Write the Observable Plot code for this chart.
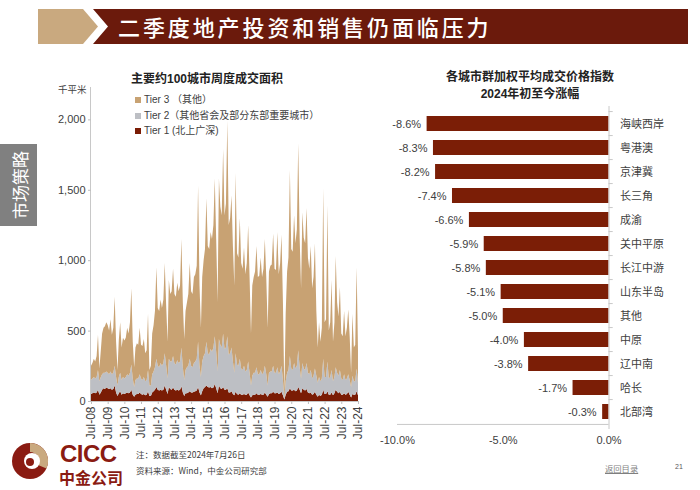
<!DOCTYPE html>
<html><head><meta charset="utf-8">
<script src="https://cdn.jsdelivr.net/npm/d3@7"></script>
<script src="https://cdn.jsdelivr.net/npm/@observablehq/plot@0.6"></script>
<style>
body{margin:0;background:#fff;}
#page{position:relative;width:700px;height:490px;overflow:hidden;font-family:"Liberation Sans",Arial,"Noto Sans CJK SC",sans-serif;color:#404040;}
.abs{position:absolute;white-space:nowrap;}
.abs svg{overflow:visible;}
</style></head><body><div id="page">
<svg class="abs" style="left:0;top:0" width="700" height="50">
<polygon points="38,9 83,9 98,26.5 83,44 38,44" fill="#c9a97f"/>
<polygon points="93,9 688,9 688,44 93,44 108,26.5" fill="#6b1a0c"/>
</svg>
<div class="abs" style="left:118px;top:11px;font-size:22px;letter-spacing:2.9px;font-weight:500;color:#fff;font-family:'Noto Sans CJK SC',sans-serif;line-height:30px">二季度地产投资和销售仍面临压力</div>
<div class="abs" style="left:0;top:144px;width:37px;height:82px;background:#808080"></div>
<div class="abs" style="left:18.5px;top:185px;transform:translate(-50%,-50%) rotate(-90deg);font-size:17px;color:#fff;font-family:'Noto Sans CJK SC',sans-serif">市场策略</div>

<div class="abs" style="left:207px;top:69px;transform:translateX(-50%);font-size:12px;font-weight:bold;color:#222">主要约100城市周度成交面积</div>
<div class="abs" style="left:58px;top:82px;font-size:9.5px;color:#404040">千平米</div>
<div id="legend"></div>
<div id="left" class="abs" style="left:0;top:0"></div>

<div class="abs" style="left:530px;top:69px;transform:translateX(-50%);font-size:12px;font-weight:bold;color:#222;text-align:center;line-height:17px">各城市群加权平均成交价格指数<br>2024年初至今涨幅</div>
<div id="right" class="abs" style="left:360px;top:0"></div>

<svg class="abs" style="left:0;top:430px" width="60" height="60">
<circle cx="30" cy="31" r="18" fill="#8a1b12"/>
<path d="M30,13 A18,18 0 0 1 46.5,38.5 L38,35 A9,9 0 0 0 30,22 Z" fill="#c9a97f"/>
<circle cx="32" cy="31" r="8" fill="#fff"/>
<circle cx="30" cy="32" r="4" fill="#8a1b12"/>
</svg>
<div class="abs" style="left:60px;top:443px;font-size:24px;font-weight:bold;color:#8a1b12;line-height:22px;letter-spacing:-0.5px">CICC</div>
<div class="abs" style="left:59px;top:468px;font-size:16px;font-weight:bold;color:#8a1b12;line-height:18px;font-family:'Noto Sans CJK SC',sans-serif">中金公司</div>
<div class="abs" style="left:136px;top:446px;font-size:8.5px;color:#404040;line-height:16px;font-family:'Noto Sans CJK SC',sans-serif">注：数据截至2024年7月26日<br>资料来源：Wind，中金公司研究部</div>
<div class="abs" style="left:605px;top:462px;font-size:8.3px;color:#7f7f7f;text-decoration:underline;font-family:'Noto Sans CJK SC',sans-serif">返回目录</div>
<div class="abs" style="left:675px;top:463px;font-size:7px;color:#595959">21</div>
</div>
<script>
// ---- Left chart: monthly readings (Jul-2008 .. Jul-2024), thousand sq m ----
const tierNames = ["Tier 1", "Tier 2", "Tier 3"];
const legendLabels = ["Tier 3 （其他）", "Tier 2（其他省会及部分东部重要城市）", "Tier 1 (北上广深)"];
const tier1 = [
50,55,60,55,60,80,
45,60,80,90,85,95,90,85,90,80,85,110,
60,35,55,70,45,55,50,55,60,55,60,80,
45,30,45,50,50,60,50,45,50,40,45,70,
35,35,60,70,80,100,80,75,80,75,80,110,
80,50,100,85,80,95,80,75,80,75,80,105,
60,35,55,55,60,70,60,60,65,70,75,100,
60,40,70,90,100,110,100,95,100,90,95,120,
90,55,110,90,85,100,80,80,90,60,60,70,
50,40,65,50,45,55,45,45,50,45,45,60,
40,25,40,45,45,55,45,45,50,45,45,60,
45,30,50,55,55,65,55,55,60,50,55,65,
40,10,45,65,70,90,75,75,80,70,75,100,
80,55,90,80,75,85,60,55,60,45,50,65,
45,30,45,35,45,80,50,50,70,45,45,60,
40,55,80,65,55,65,45,45,55,45,50,65,
45,25,50,45,45,70,40];
const tier2 = [
100,105,110,105,110,140,
95,110,110,110,115,115,110,105,120,110,115,140,
110,75,115,130,105,115,110,115,130,125,140,180,
115,70,105,110,110,130,110,105,120,100,105,150,
75,75,130,140,160,200,170,165,190,175,190,230,
170,110,200,195,200,225,190,185,210,195,200,275,
180,115,165,185,190,230,190,180,205,210,225,320,
190,130,210,230,240,310,240,235,270,260,285,340,
260,155,330,310,295,380,290,300,370,270,280,310,
230,160,275,210,205,245,185,175,200,165,175,220,
160,85,140,155,155,185,145,145,170,145,155,190,
145,80,150,155,155,185,145,145,180,140,155,185,
110,10,95,135,150,230,155,145,190,160,175,260,
160,105,180,150,145,185,140,135,160,115,130,165,
135,100,125,105,115,220,120,120,210,115,125,160,
100,115,160,135,125,155,115,105,135,105,110,125,
105,75,130,95,95,160,90];
const tier3 = [
100,110,130,120,150,250,
90,190,290,320,330,350,340,310,370,280,320,490,
250,110,260,360,230,280,270,280,330,300,360,540,
260,140,230,250,240,330,240,240,270,200,210,400,
110,140,290,330,400,650,410,400,450,410,450,640,
430,260,560,480,500,620,490,480,550,510,540,770,
460,290,420,460,510,680,530,520,610,620,660,1110,
570,350,600,680,740,1020,760,750,830,800,870,1120,
800,490,1140,980,940,1310,950,1020,1530,920,960,1080,
820,620,1280,790,770,1000,750,720,840,690,760,970,
680,370,640,680,720,860,690,700,800,690,740,900,
690,410,720,750,760,940,740,730,960,710,770,930,
550,40,480,720,800,1320,850,840,1050,890,970,1470,
920,640,1070,930,900,1100,820,750,880,640,700,890,
460,250,390,280,360,1210,390,410,1110,340,390,640,
280,390,790,500,420,590,320,310,450,310,360,460,
310,100,440,240,260,720,230];
const xTickLabels = ["Jul-08","Jul-09","Jul-10","Jul-11","Jul-12","Jul-13","Jul-14","Jul-15","Jul-16","Jul-17","Jul-18","Jul-19","Jul-20","Jul-21","Jul-22","Jul-23","Jul-24"];
const yTicks = [0, 500, 1000, 1500, 2000];
const tierColors = ["#7a1c05", "#bdbfc4", "#c8a273"];

// ---- Right chart ----
const cities = ["海峡西岸","粤港澳","京津冀","长三角","成渝","关中平原","长江中游","山东半岛","其他","中原","辽中南","哈长","北部湾"];
const changes = [-8.6,-8.3,-8.2,-7.4,-6.6,-5.9,-5.8,-5.1,-5.0,-4.0,-3.8,-1.7,-0.3];
const xTicksRight = [-10, -5, 0];

const parseTick = d3.utcParse("%b-%y");
const xTickDates = xTickLabels.map(parseTick);
const dates = tier1.map((_, i) => new Date(Date.UTC(2008, 6 + i, 1)));
const table = [];
[tier1, tier2, tier3].forEach((arr, k) => arr.forEach((v, i) => table.push({date: dates[i], tier: tierNames[k], value: v})));

const baseStyle = {fontFamily: "'Liberation Sans', Arial, 'Noto Sans CJK SC', sans-serif", fontSize: "11px", color: "#404040", background: "transparent", overflow: "visible"};

const left = Plot.plot({
  width: 370, height: 460, marginLeft: 91, marginRight: 12, marginTop: 87, marginBottom: 59,
  style: baseStyle,
  x: {type: "utc", domain: [dates[0], dates[dates.length - 1]], label: null},
  y: {domain: [0, 2230], label: null},
  color: {domain: tierNames, range: tierColors},
  marks: [
    Plot.areaY(table, {x: "date", y: "value", fill: "tier", z: "tier", curve: "linear"}),
    Plot.ruleX([dates[0]], {stroke: "#c8c8c8", dx: -1}),
    Plot.ruleY([0], {stroke: "#c8c8c8"}),
    Plot.axisY({ticks: yTicks, tickFormat: d3.format(","), tickSize: 3, tickPadding: 3, stroke: "#bfbfbf", label: null}),
    Plot.axisX({ticks: xTickDates, tickFormat: d3.utcFormat("%b-%y"), tickRotate: -90, tickSize: 3, tickPadding: 2, stroke: "#bfbfbf", fontSize: 12, label: null})
  ]
});
document.getElementById("left").appendChild(left);

// legend
const lg = document.getElementById("legend");
const legendColors = [tierColors[2], tierColors[1], tierColors[0]];
legendLabels.forEach((t, i) => {
  const y = [100, 115.5, 131][i];
  const sq = document.createElement("div");
  sq.className = "abs";
  sq.style.cssText = `left:135px;top:${y - 3}px;width:6px;height:6px;background:${legendColors[i]}`;
  lg.appendChild(sq);
  const tx = document.createElement("div");
  tx.className = "abs";
  tx.style.cssText = `left:144px;top:${y - 7}px;font-size:10px;line-height:14px;color:#404040`;
  tx.textContent = t;
  lg.appendChild(tx);
});

const rows = cities.map((c, i) => ({city: c, change: changes[i]}));
const step = 323 / 13;
const right = Plot.plot({
  width: 340, height: 460, marginLeft: 37, marginRight: 91.5, marginTop: 106, marginBottom: 31,
  style: baseStyle,
  x: {domain: [-10, 0], label: null},
  y: {type: "band", domain: cities, paddingInner: 0.38, paddingOuter: 0.19, label: null},
  marks: [
    Plot.barX(rows, {x: "change", y: "city", fill: "#7b1e06"}),
    Plot.ruleX([0], {stroke: "#c8c8c8"}),
    Plot.ruleY([cities[cities.length - 1]], {x1: -10, x2: 0, dy: step / 2, stroke: "#c8c8c8"}),
    Plot.ruleY(cities, {x1: 0, x2: 0.2, dy: -step / 2, stroke: "#c8c8c8"}),
    Plot.text(rows, {x: "change", y: "city", text: d => d.change.toFixed(1) + "%", textAnchor: "end", dx: -6, fill: "#404040", fontSize: 11}),
    Plot.axisY({anchor: "right", tickSize: 0, tickPadding: 11, fontSize: 11, label: null}),
    Plot.axisX({ticks: xTicksRight, tickFormat: d => d.toFixed(1) + "%", tickSize: 0, tickPadding: 7, fontSize: 11, label: null})
  ]
});
document.getElementById("right").appendChild(right);
</script>
</body></html>
